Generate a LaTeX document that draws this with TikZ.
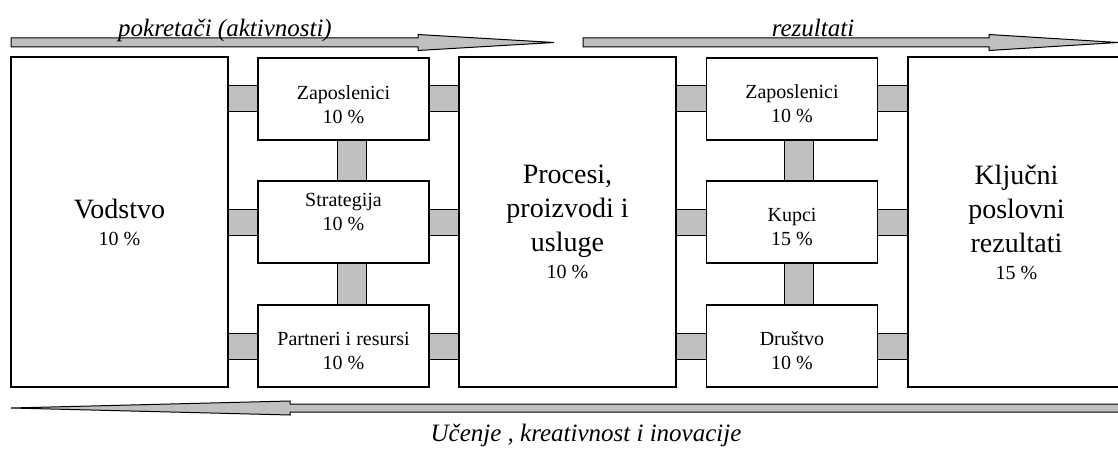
\documentclass[tikz,border=0pt]{standalone}
\usepackage{fontspec}
\setmainfont{Liberation Serif}
\definecolor{barfill}{RGB}{192,192,192}
\begin{document}
\begin{tikzpicture}[x=1pt,y=-1pt,
        bigbox/.style={draw, fill=white, line width=1.2pt, minimum width=217pt, minimum height=330pt, align=center, font=\fontsize{28}{34}\selectfont},
        smallbox/.style={draw, fill=white, line width=1.2pt, minimum width=171pt, minimum height=82pt},
        boxtext/.style={align=center, font=\fontsize{20}{24}\selectfont},
        bar/.style={draw=black, line width=1pt, double=barfill, double distance=25pt},
        vbar/.style={bar, double distance=28pt},
        pipe/.style={draw=black, line width=1pt, fill=barfill},
        pipetext/.style={font=\fontsize{25}{29}\selectfont\itshape, anchor=base}]
        \useasboundingbox (0,0) rectangle (1118,449);

        % strelice
        \filldraw[pipe] (11,38) -- (418,38) -- (418,34.5) -- (554,42.5) -- (418,50.5) -- (418,47) -- (11,47) -- cycle;
        \filldraw[pipe] (583,38) -- (989,38) -- (989,34.5) -- (1118,42.5) -- (989,50.5) -- (989,47) -- (583,47) -- cycle;
        \filldraw[pipe] (1125,404) -- (290,404) -- (290,401) -- (11,408) -- (290,415) -- (290,412) -- (1125,412) -- cycle;

        \node[pipetext] (drv) at (225,37) {pokretači (aktivnosti)};
        \node[pipetext] (res) at (813,37) {rezultati};
        \node[pipetext] (lrn) at (586,441) {Učenje , kreativnost i inovacije};

        % kriteriji
        \node[bigbox] (vod) at (119.5,222) {Vodstvo\\[-7pt]{\fontsize{20}{24}\selectfont 10 \%}};
        \node[bigbox] (proc) at (567.5,222) {Procesi,\\proizvodi i\\usluge\\[-7pt]{\fontsize{20}{24}\selectfont 10 \%}};
        \node[bigbox] (kpr) at (1016.5,222) {Ključni\\poslovni\\rezultati\\[-7pt]{\fontsize{20}{24}\selectfont 15 \%}};

        \node[smallbox, label={[boxtext, yshift=-6pt]center:{Zaposlenici\\10 \%}}] (zapl) at (343.5,99) {};
        \node[smallbox, label={[boxtext, yshift=10pt]center:{Strategija\\10 \%}}] (strl) at (343.5,222) {};
        \node[smallbox, label={[boxtext, yshift=-5pt]center:{Partneri i resursi\\10 \%}}] (parl) at (343.5,346) {};

        \node[smallbox, label={[boxtext, yshift=-5pt]center:{Zaposlenici\\10 \%}}] (zapr) at (792,99) {};
        \node[smallbox, label={[boxtext, yshift=-5pt]center:{Kupci\\15 \%}}] (kup) at (792,222) {};
        \node[smallbox, label={[boxtext, yshift=-5pt]center:{Društvo\\10 \%}}] (dru) at (792,346) {};

        % veze
        \foreach \n in {zapl,strl,parl} {
            \draw[bar] (vod.east |- \n.west) -- (\n.west);
            \draw[bar] (\n.east) -- (proc.west |- \n.east);
        }
        \foreach \n in {zapr,kup,dru} {
            \draw[bar] (proc.east |- \n.west) -- (\n.west);
            \draw[bar] (\n.east) -- (kpr.west |- \n.east);
        }
        \draw[vbar] ([xshift=8pt]zapl.south) -- ([xshift=8pt]strl.north);
        \draw[vbar] ([xshift=8pt]strl.south) -- ([xshift=8pt]parl.north);
        \draw[vbar] ([xshift=7pt]zapr.south) -- ([xshift=7pt]kup.north);
        \draw[vbar] ([xshift=7pt]kup.south) -- ([xshift=7pt]dru.north);
    \end{tikzpicture}
\end{document}
